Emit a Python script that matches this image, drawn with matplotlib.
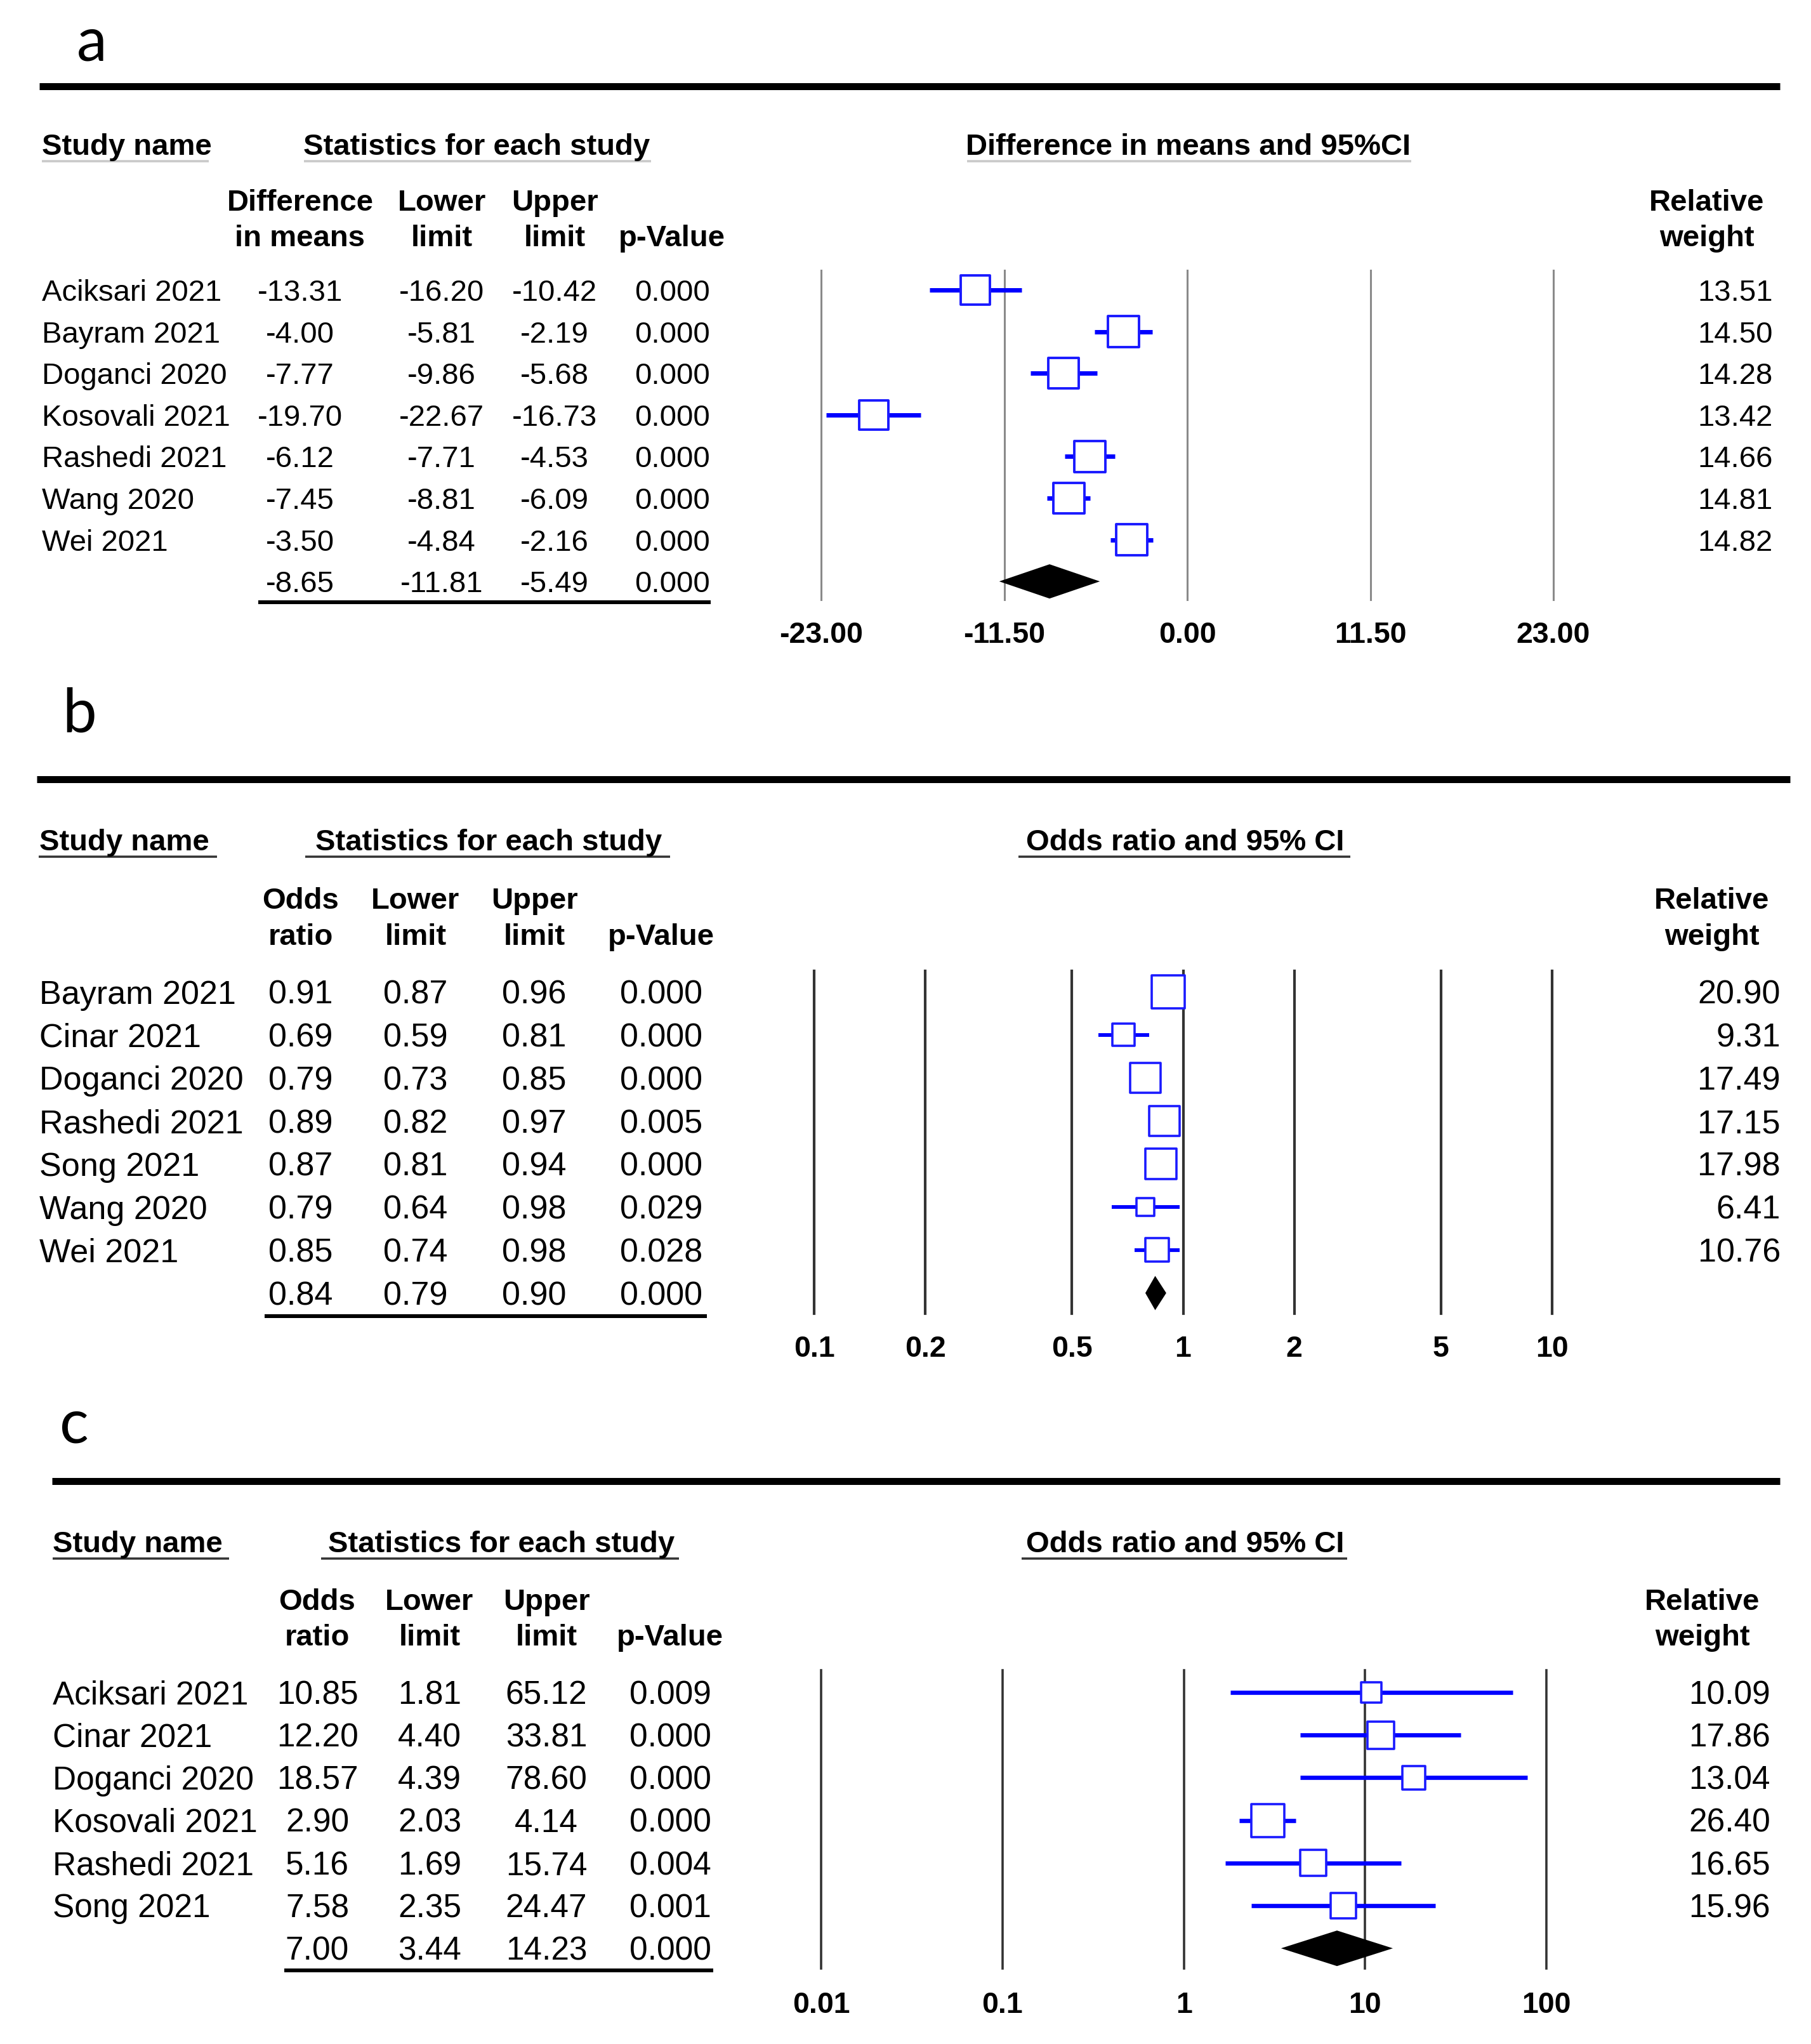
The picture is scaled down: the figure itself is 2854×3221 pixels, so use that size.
import matplotlib
matplotlib.use("Agg")
import matplotlib.pyplot as plt
import numpy as np

# ---------------- data ----------------
# Panel a: difference in means
studies_a = ["Aciksari 2021", "Bayram 2021", "Doganci 2020", "Kosovali 2021",
             "Rashedi 2021", "Wang 2020", "Wei 2021"]
est_a = [-13.31, -4.00, -7.77, -19.70, -6.12, -7.45, -3.50]
low_a = [-16.20, -5.81, -9.86, -22.67, -7.71, -8.81, -4.84]
up_a = [-10.42, -2.19, -5.68, -16.73, -4.53, -6.09, -2.16]
p_a = ["0.000", "0.000", "0.000", "0.000", "0.000", "0.000", "0.000"]
weight_a = [13.51, 14.50, 14.28, 13.42, 14.66, 14.81, 14.82]
summary_a = [-8.65, -11.81, -5.49]
summary_p_a = "0.000"
ticks_a = [-23.0, -11.5, 0.0, 11.5, 23.0]
ticklabels_a = ["-23.00", "-11.50", "0.00", "11.50", "23.00"]

# Panel b: odds ratio
studies_b = ["Bayram 2021", "Cinar 2021", "Doganci 2020", "Rashedi 2021",
             "Song 2021", "Wang 2020", "Wei 2021"]
est_b = [0.91, 0.69, 0.79, 0.89, 0.87, 0.79, 0.85]
low_b = [0.87, 0.59, 0.73, 0.82, 0.81, 0.64, 0.74]
up_b = [0.96, 0.81, 0.85, 0.97, 0.94, 0.98, 0.98]
p_b = ["0.000", "0.000", "0.000", "0.005", "0.000", "0.029", "0.028"]
weight_b = [20.90, 9.31, 17.49, 17.15, 17.98, 6.41, 10.76]
summary_b = [0.84, 0.79, 0.90]
summary_p_b = "0.000"
ticks_b = [0.1, 0.2, 0.5, 1, 2, 5, 10]
ticklabels_b = ["0.1", "0.2", "0.5", "1", "2", "5", "10"]

# Panel c: odds ratio
studies_c = ["Aciksari 2021", "Cinar 2021", "Doganci 2020", "Kosovali 2021",
             "Rashedi 2021", "Song 2021"]
est_c = [10.85, 12.20, 18.57, 2.90, 5.16, 7.58]
low_c = [1.81, 4.40, 4.39, 2.03, 1.69, 2.35]
up_c = [65.12, 33.81, 78.60, 4.14, 15.74, 24.47]
p_c = ["0.009", "0.000", "0.000", "0.000", "0.004", "0.001"]
weight_c = [10.09, 17.86, 13.04, 26.40, 16.65, 15.96]
summary_c = [7.00, 3.44, 14.23]
summary_p_c = "0.000"
ticks_c = [0.01, 0.1, 1, 10, 100]
ticklabels_c = ["0.01", "0.1", "1", "10", "100"]

# ---------------- figure ----------------
W, H = 2854, 3221
DPI = 100
PX = 72.0 / DPI  # points per pixel
FONT = ["Liberation Sans", "DejaVu Sans"]
LETTER_FONT = ["Lato", "DejaVu Sans"]

fig = plt.figure(figsize=(W / DPI, H / DPI), dpi=DPI)
bg = fig.add_axes([0, 0, 1, 1])
bg.set_xlim(0, W)
bg.set_ylim(H, 0)
bg.axis("off")


def txt(x, yc, s, size, bold=False, ha="left", color="black"):
    em = size / PX
    bg.text(x, yc + 0.358 * em, s, fontsize=size,
            fontweight="bold" if bold else "normal",
            ha=ha, va="baseline", family=FONT, color=color)


def hline(x0, x1, y, lw_px, color="black"):
    bg.plot([x0, x1], [y, y], color=color, lw=lw_px * PX,
            solid_capstyle="butt")


def panel(L, names, est, low, up, pvals, weights, summ, summ_p,
          ticks, ticklabels, log, col_heads, plot_head, fmt):
    # panel letter and heavy rule
    bg.text(L["letter"][0], L["letter"][1], L["letter"][2], fontsize=69,
            family=LETTER_FONT, ha="left", va="baseline")
    hline(L["rule"][0], L["rule"][1], L["rule"][2], 11)

    hs = 34  # header size
    ds = L["dsize"]
    # top headers
    yh = L["yh"]
    txt(L["name_x"], yh, "Study name", hs, bold=True)
    txt(L["stat_cx"], yh, "Statistics for each study", hs, bold=True, ha="center")
    txt(L["plot_cx"], yh, plot_head, hs, bold=True, ha="center")
    for (x0, x1) in L["ul"]:
        hline(x0, x1, L["yul"], 3.5, L["ulc"])

    # column headers
    y1, y2 = L["ych"]
    cols = L["cols"]
    for cx, (h1, h2) in zip(cols, col_heads):
        if h1:
            txt(cx, y1, h1, hs, bold=True, ha="center")
        txt(cx, y2, h2, hs, bold=True, ha="center")
    txt(L["rw_cx"], y1, "Relative", hs, bold=True, ha="center")
    txt(L["rw_cx"], y2, "weight", hs, bold=True, ha="center")

    # table rows
    n = len(names)
    row0, dy = L["row0"], L["dy"]
    for i in range(n):
        yc = row0 + i * dy
        txt(L["name_x"], yc, names[i], ds)
        txt(cols[0], yc, fmt(est[i]), ds, ha="center")
        txt(cols[1], yc, fmt(low[i]), ds, ha="center")
        txt(cols[2], yc, fmt(up[i]), ds, ha="center")
        txt(cols[3], yc, pvals[i], ds, ha="center")
        txt(L["rw_x"], yc, f"{weights[i]:.2f}", ds, ha="right")
    yc = row0 + n * dy
    txt(cols[0], yc, fmt(summ[0]), ds, ha="center")
    txt(cols[1], yc, fmt(summ[1]), ds, ha="center")
    txt(cols[2], yc, fmt(summ[2]), ds, ha="center")
    txt(cols[3], yc, summ_p, ds, ha="center")
    su = L["sumline"]
    hline(su[0], su[1], su[2], 6)

    # forest plot axes
    x0, x1, yt, yb = L["plot"]
    ax = fig.add_axes([x0 / W, 1 - yb / H, (x1 - x0) / W, (yb - yt) / H])
    ax.set_facecolor("none")
    if log:
        ax.set_xscale("log")
    ax.set_xlim(ticks[0], ticks[-1])
    ax.set_ylim((yb - row0) / dy, (yt - row0) / dy)
    for s in ax.spines.values():
        s.set_visible(False)
    for t in ticks:
        ax.axvline(t, color=L["gc"], lw=L["glw"], clip_on=False, zorder=1)
    ax.set_xticks(ticks)
    ax.set_xticklabels(ticklabels, fontsize=33.5, fontweight="bold", family=FONT)
    ax.minorticks_off()
    ax.tick_params(axis="x", length=0, pad=L["pad"])
    ax.set_yticks([])
    rows = np.arange(n)
    ax.hlines(rows, low, up, color="#0000ff", lw=L["cilw"], zorder=2)
    sides = L["box_k"] * np.sqrt(np.asarray(weights)) * PX
    ax.scatter(est, rows, s=sides ** 2, marker="s", facecolor="white",
               edgecolor="#1a1aff", linewidths=L["boxlw"], zorder=3)
    h = L["dh"] / dy
    ax.fill([summ[1], summ[0], summ[2], summ[0]], [n, n - h, n, n + h],
            color="black", zorder=4, lw=0)
    return ax


f2 = lambda v: f"{v:.2f}"

# ---- panel a ----
La = dict(letter=(121, 95, "a"), rule=(62, 2805, 136),
          dsize=34, yh=227, name_x=66, stat_cx=751, plot_cx=1873,
          ul=[(66, 329), (479, 1026), (1524, 2224)], yul=254, ulc="#c8c8c8",
          ych=(315, 371), cols=[473, 696, 874, 1059], rw_cx=2690, rw_x=2794,
          row0=457, dy=65.6, sumline=(407, 1120, 949),
          plot=(1294, 2448, 426, 945), gc="#8a8a8a", glw=2.2, pad=24.5,
          cilw=5.0, boxlw=2.8, box_k=12.7, dh=27)
panel(La, studies_a, est_a, low_a, up_a, p_a, weight_a, summary_a, summary_p_a,
      ticks_a, ticklabels_a, False,
      [("Difference", "in means"), ("Lower", "limit"), ("Upper", "limit"), ("", "p-Value")],
      "Difference in means and 95%CI", f2)

# ---- panel b ----
Lb = dict(letter=(98, 1153, "b"), rule=(58, 2821, 1228),
          dsize=37.5, yh=1323, name_x=62, stat_cx=770, plot_cx=1868,
          ul=[(61, 342), (481, 1056), (1605, 2128)], yul=1350, ulc="#333333",
          ych=(1415, 1472), cols=[474, 655, 842, 1042], rw_cx=2698, rw_x=2806,
          row0=1563, dy=67.8, sumline=(417, 1114, 2074),
          plot=(1283, 2446, 1530, 2070), gc="#333333", glw=3.0, pad=24.5,
          cilw=4.2, boxlw=2.6, box_k=11.4, dh=27)
panel(Lb, studies_b, est_b, low_b, up_b, p_b, weight_b, summary_b, summary_p_b,
      ticks_b, ticklabels_b, True,
      [("Odds", "ratio"), ("Lower", "limit"), ("Upper", "limit"), ("", "p-Value")],
      "Odds ratio and 95% CI", f2)

# ---- panel c ----
Lc = dict(letter=(94, 2273, "c"), rule=(82, 2805, 2334),
          dsize=37, yh=2429, name_x=83, stat_cx=790, plot_cx=1868,
          ul=[(83, 361), (506, 1070), (1610, 2123)], yul=2456, ulc="#333333",
          ych=(2520, 2576), cols=[500, 677, 861, 1056], rw_cx=2683, rw_x=2790,
          row0=2667, dy=67.2, sumline=(448, 1124, 3105),
          plot=(1294, 2437, 2632, 3102), gc="#333333", glw=2.6, pad=26,
          cilw=4.8, boxlw=2.6, box_k=10.1, dh=28)
panel(Lc, studies_c, est_c, low_c, up_c, p_c, weight_c, summary_c, summary_p_c,
      ticks_c, ticklabels_c, True,
      [("Odds", "ratio"), ("Lower", "limit"), ("Upper", "limit"), ("", "p-Value")],
      "Odds ratio and 95% CI", f2)

fig.savefig("out.png", dpi=DPI)
